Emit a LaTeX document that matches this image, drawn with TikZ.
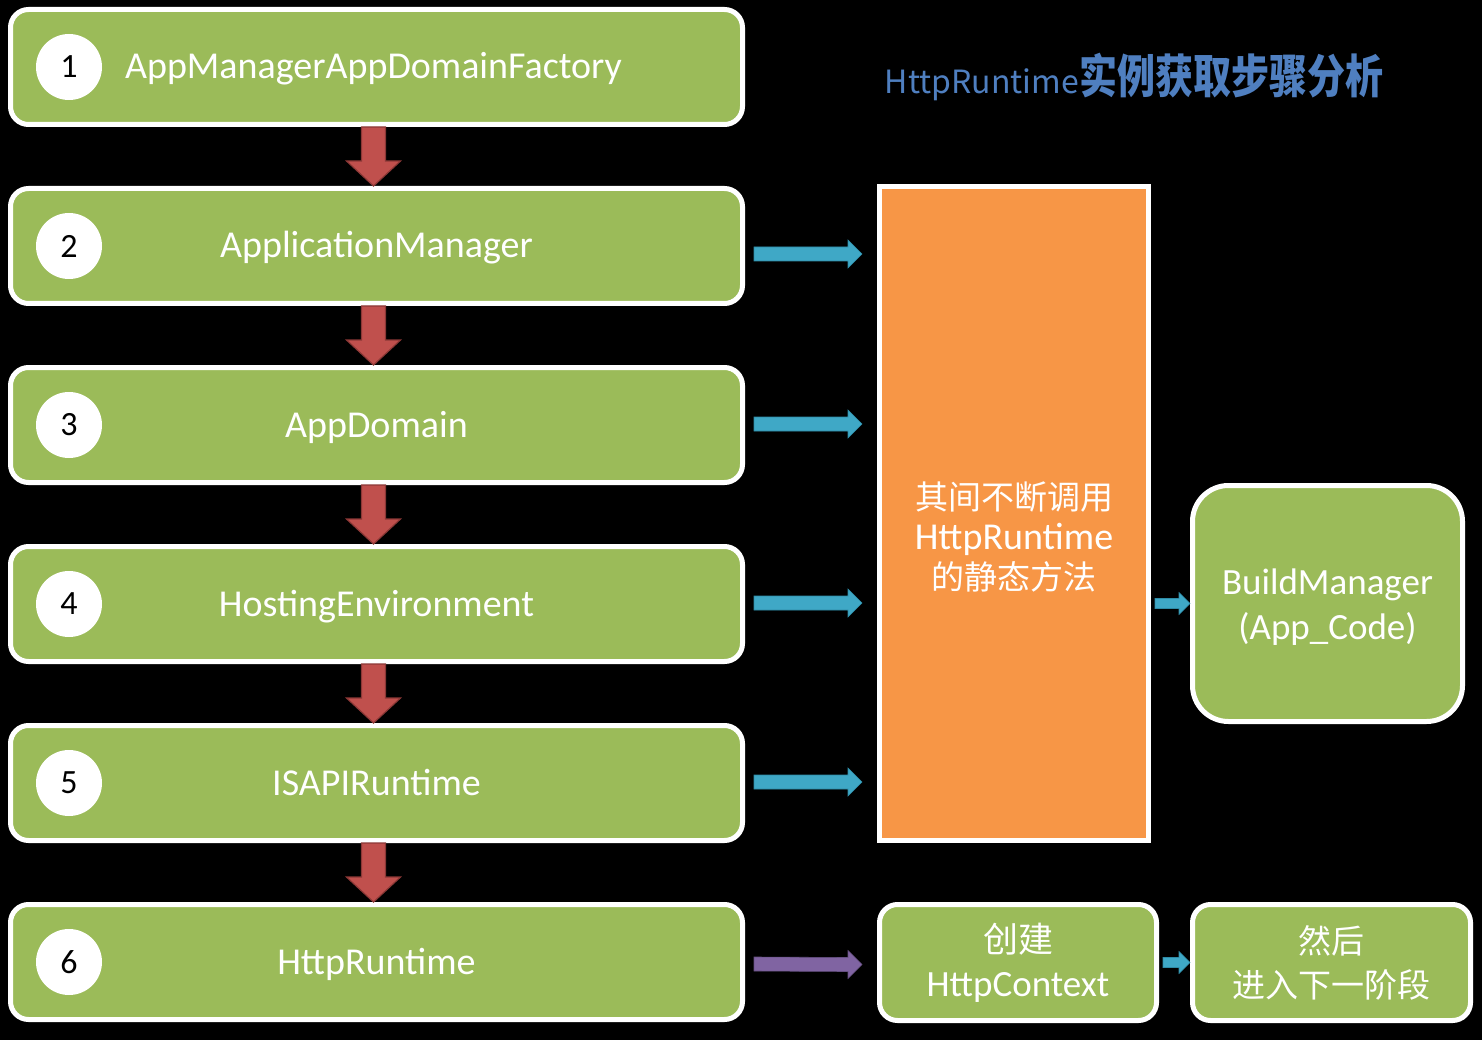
\documentclass[tikz,border=0pt]{standalone}
\usepackage{fontspec}
\setmainfont{Carlito}
\newfontfamily\cjk{Noto Sans CJK SC}
\usetikzlibrary{calc}
\definecolor{boxgreen}{HTML}{9BBB59}
\definecolor{boxorange}{HTML}{F79646}
\definecolor{arrred}{HTML}{C0504D}
\definecolor{arrredd}{HTML}{8C3836}
\definecolor{arrcyan}{HTML}{3FA8C6}
\definecolor{arrcyand}{HTML}{2E8BA6}
\definecolor{arrpurple}{HTML}{8064A2}
\definecolor{titleblue}{HTML}{4F7FC0}
\newcommand\zh[1]{{\cjk\fontsize{33}{40}\selectfont #1}}
\newcommand\downarr[2]{%
  \filldraw[redarr] ($(#1.south)+(-15,0)$) -- ($(#1.south)+(9,0)$) --
  ($(#2.north)+(9,-25)$) -- ($(#2.north)+(24,-25)$) -- ($(#2.north)+(-3,0)$) --
  ($(#2.north)+(-30,-25)$) -- ($(#2.north)+(-15,-25)$) -- cycle;}
% style, from, to, shaft half, head half, head length
\newcommand\rarr[6]{%
  \filldraw[#1] ($(#2)+(0,-#4)$) -- ($(#3)+(-#6,-#4)$) -- ($(#3)+(-#6,-#5)$) --
  (#3) -- ($(#3)+(-#6,#5)$) -- ($(#3)+(-#6,#4)$) -- ($(#2)+(0,#4)$) -- cycle;}
\tikzset{
  stepbox/.style={draw=white, line width=5pt, fill=boxgreen, rounded corners=18pt,
    minimum width=732pt, minimum height=115pt, text=white,
    text height=26pt, text depth=2pt,
    font=\fontsize{38}{44}\selectfont},
  numcirc/.style={circle, fill=white, minimum size=66pt, inner sep=0pt,
    font=\fontsize{34}{34}\selectfont, text=black},
  sidebox/.style={draw=white, line width=5pt, fill=boxgreen, rounded corners=18pt,
    text=white, align=center, font=\fontsize{37}{44}\selectfont},
  redarr/.style={fill=arrred, draw=arrredd, line width=1.2pt, line join=miter},
  cyanarr/.style={fill=arrcyan, draw=arrcyand, line width=0.6pt, line join=miter},
  purparr/.style={fill=arrpurple, draw=arrpurple!80!black, line width=0.6pt, line join=miter},
}
\begin{document}
\begin{tikzpicture}[x=1pt, y=-1pt]
\useasboundingbox[fill=black] (0,0) rectangle (1482,1040);
% main steps
\foreach \i/\yy/\t in {1/67/{\hspace*{-6pt}AppManagerAppDomainFactory},2/246/ApplicationManager,3/425/AppDomain,4/604/HostingEnvironment,5/783/ISAPIRuntime,6/962/HttpRuntime}{
  \node[stepbox] (b\i) at (376.5,\yy) {\t};
  \node[numcirc] (c\i) at (69,\yy) {\i};
}
% red down arrows
\downarr{b1}{b2}
\downarr{b2}{b3}
\downarr{b3}{b4}
\downarr{b4}{b5}
\downarr{b5}{b6}
% title
\node[anchor=center, text=titleblue] (title) at (1134,77)
  {{\cjk\fontsize{32}{32}\selectfont HttpRuntime}{\cjk\bfseries\fontsize{38}{38}\selectfont\scalebox{1}[1.22]{实例获取步骤分析}}};
% orange box
\node[draw=white, line width=5pt, fill=boxorange, minimum width=269pt, minimum height=654pt] (or) at (1014,513.5) {};
\node[text=white, align=center, font=\fontsize{38}{40}\selectfont] (ortext) at ($(or.center)+(0,23)$)
  {\zh{其间不断调用}\\HttpRuntime\\\zh{的静态方法}};
% build manager
\node[sidebox, rounded corners=36pt, minimum width=270pt, minimum height=236pt] (bm) at (1327.5,603.5) {};
\node[text=white, align=center, font=\fontsize{37}{45}\selectfont] (bmtext) at ($(bm.center)+(0,4)$)
  {BuildManager\\(App\_Code)};
% bottom boxes
\node[sidebox, minimum width=277pt, minimum height=116pt] (hc) at (1018,962.5)
  {{\cjk\fontsize{35}{44}\selectfont 创建}\\HttpContext};
\node[sidebox, minimum width=278pt, minimum height=116pt] (nx) at (1331.5,962.5)
  {{\cjk\fontsize{33}{44}\selectfont 然后}\\{\cjk\fontsize{33}{44}\selectfont 进入下一阶段}};
% cyan arrows from steps to orange box
\foreach \i/\dy in {2/8,3/-1,4/-1,5/-1}{
  \coordinate (s\i) at ($(b\i.east)+(9,\dy)$);
  \coordinate (e\i) at ($(b\i.east -| or.west)+(-15,\dy)$);
  \rarr{cyanarr}{s\i}{e\i}{7}{14}{14}
}
% purple arrow
\coordinate (s6) at ($(b6.east)+(9,2)$);
\coordinate (e6) at ($(hc.west)+(-15,2)$);
\rarr{purparr}{s6}{e6}{7}{14}{14}
% small cyan arrows
\coordinate (so) at ($(or.east |- bm.west)+(4,0)$);
\coordinate (eo) at (bm.west);
\rarr{cyanarr}{so}{eo}{5}{11}{11}
\coordinate (sh) at ($(hc.east)+(4,0)$);
\coordinate (eh) at (nx.west);
\rarr{cyanarr}{sh}{eh}{5}{11}{11}
\end{tikzpicture}
\end{document}
